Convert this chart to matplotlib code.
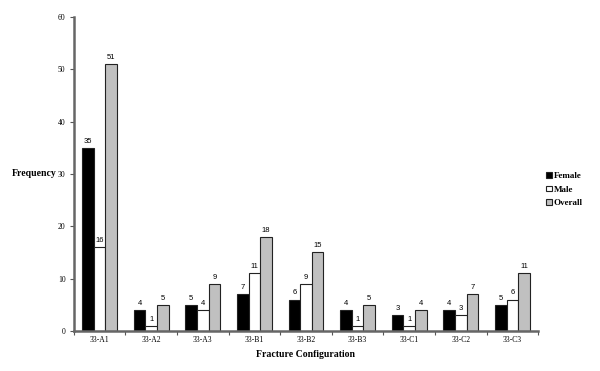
import matplotlib.pyplot as plt
import numpy as np

categories = ["33-A1", "33-A2", "33-A3", "33-B1", "33-B2", "33-B3", "33-C1", "33-C2", "33-C3"]
female = [35, 4, 5, 7, 6, 4, 3, 4, 5]
male = [16, 1, 4, 11, 9, 1, 1, 3, 6]
overall = [51, 5, 9, 18, 15, 5, 4, 7, 11]

plt.rcParams['font.family'] = ['Liberation Serif', 'DejaVu Serif']

fig = plt.figure(figsize=(6, 3.71), dpi=100)
ax = fig.add_axes([0.123, 0.108, 0.774, 0.846])

x = np.arange(len(categories))
w = 0.225
series = [(female, "black", "Female"), (male, "white", "Male"), (overall, "#c0c0c0", "Overall")]
for i, (vals, col, lab) in enumerate(series):
    bars = ax.bar(x + (i - 1) * w, vals, w, color=col, edgecolor="#222222", linewidth=0.8, label=lab)
    for b, v in zip(bars, vals):
        ax.text(b.get_x() + b.get_width() / 2, v + 0.6, str(v), ha="center", va="bottom",
                fontsize=5.5, family="Liberation Sans")

ax.set_xlim(-0.5, len(categories) - 0.5)
ax.set_ylim(0, 60)
ax.set_yticks([0, 10, 20, 30, 40, 50, 60])
ax.set_xticks(x)
ax.set_xticklabels(categories)
ax.set_xticks(np.arange(len(categories) + 1) - 0.5, minor=True)
ax.tick_params(axis="x", which="major", length=0, labelsize=5.5, pad=4)
ax.tick_params(axis="x", which="minor", length=3, width=0.8, color="#555555", direction="out")
ax.tick_params(axis="y", length=3, width=0.8, color="#555555", labelsize=5.5, pad=3)

for s in ["top", "right"]:
    ax.spines[s].set_visible(False)
for s in ["left", "bottom"]:
    ax.spines[s].set_color("#666666")
    ax.spines[s].set_linewidth(1.8)

ax.set_ylabel("Frequency", fontsize=7, fontweight="bold", rotation=0, labelpad=17, va="center")
ax.set_xlabel("Fracture Configuration", fontsize=7, fontweight="bold", labelpad=4)

ax.legend(loc="center left", bbox_to_anchor=(1.0, 0.45), frameon=False,
          handlelength=0.6, handleheight=0.6, handletextpad=0.2, labelspacing=0.6,
          prop={"weight": "bold", "size": 6.5})

fig.savefig("out.png", dpi=100)
